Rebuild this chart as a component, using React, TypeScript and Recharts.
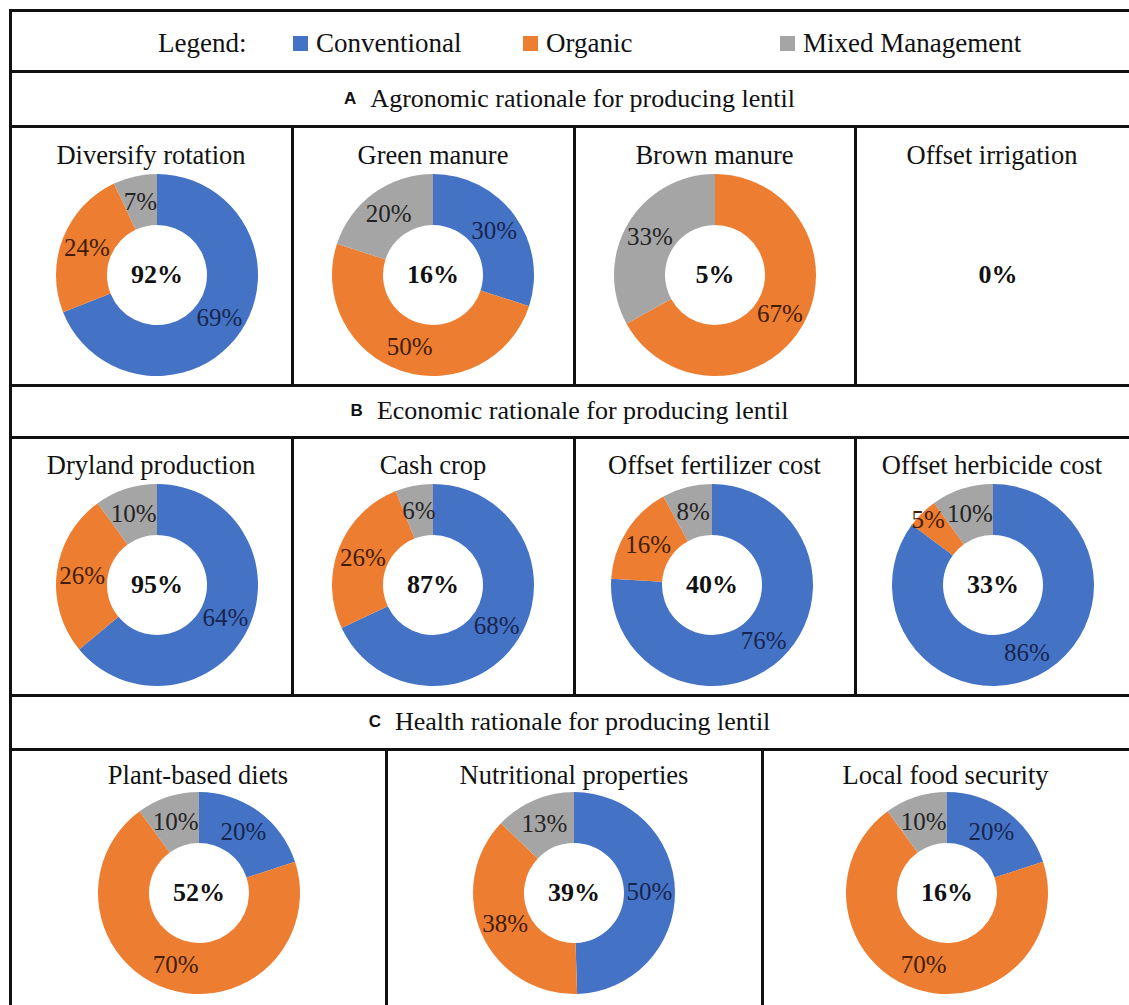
import React from 'react';
import { PieChart, Pie, Cell } from 'recharts';

// series and colors
const seriesNames = ['Conventional', 'Organic', 'Mixed Management'];
const seriesColors = ['#4472C4', '#ED7D31', '#A5A5A5'];
const labelColors = ['#17264F', '#431C04', '#242424'];

// A: agronomic
const agronomicTitles = ['Diversify rotation', 'Green manure', 'Brown manure', 'Offset irrigation'];
const agronomicConventional = [69, 30, 0, 0];
const agronomicOrganic = [24, 50, 67, 0];
const agronomicMixed = [7, 20, 33, 0];
const agronomicTotals = ['92%', '16%', '5%', '0%'];

// B: economic
const economicTitles = ['Dryland production', 'Cash crop', 'Offset fertilizer cost', 'Offset herbicide cost'];
const economicConventional = [64, 68, 76, 86];
const economicOrganic = [26, 26, 16, 5];
const economicMixed = [10, 6, 8, 10];
const economicTotals = ['95%', '87%', '40%', '33%'];

// C: health
const healthTitles = ['Plant-based diets', 'Nutritional properties', 'Local food security'];
const healthConventional = [20, 50, 20];
const healthOrganic = [70, 38, 70];
const healthMixed = [10, 13, 10];
const healthTotals = ['52%', '39%', '16%'];

const serif = '"Liberation Serif", "Times New Roman", serif';
const sans = '"Liberation Sans", Arial, sans-serif';
const RADIAN = Math.PI / 180;
const LINE = '#111';

const renderLabel = (props: any) => {
  const { cx, cy, midAngle, innerRadius, outerRadius, value, index, percent } = props;
  if (!value) return null;
  // tiny slices sit a bit further out, like Excel's best fit
  const r = (innerRadius + outerRadius) / 2 + (percent < 0.06 ? 17 : 0);
  const x = cx + r * Math.cos(-midAngle * RADIAN);
  const y = cy + r * Math.sin(-midAngle * RADIAN);
  return (
    <text
      x={x}
      y={y}
      fill={labelColors[index]}
      textAnchor="middle"
      dominantBaseline="central"
      style={{ fontFamily: serif, fontSize: 25 }}
    >
      {value}%
    </text>
  );
};

interface DonutProps {
  title: string;
  values: number[];
  total: string;
  cellLeft: number;
  cellWidth: number;
  titleY: number;
  cx: number;
  cy: number;
}

function Donut({ title, values, total, cellLeft, cellWidth, titleY, cx, cy }: DonutProps) {
  const data = values.map((v, i) => ({ name: seriesNames[i], value: v }));
  const hasData = values.some((v) => v > 0);
  const size = 240;
  return (
    <>
      <div
        style={{
          position: 'absolute', left: cellLeft, width: cellWidth, top: titleY - 16,
          height: 32, lineHeight: '32px', textAlign: 'center',
          fontFamily: serif, fontSize: 26.5, color: '#111', whiteSpace: 'nowrap',
        }}
      >
        {title}
      </div>
      {hasData && (
        <div style={{ position: 'absolute', left: cx - size / 2, top: cy - size / 2 }}>
          <PieChart width={size} height={size}>
            <Pie
              data={data}
              dataKey="value"
              cx="50%"
              cy="50%"
              innerRadius={50}
              outerRadius={101}
              startAngle={90}
              endAngle={-270}
              stroke="none"
              labelLine={false}
              label={renderLabel}
              isAnimationActive={false}
            >
              {data.map((d, i) => (
                <Cell key={d.name} fill={seriesColors[i]} />
              ))}
            </Pie>
          </PieChart>
        </div>
      )}
      <div
        style={{
          position: 'absolute', left: cx - 50, width: 100, top: cy - 16, height: 32,
          lineHeight: '32px', textAlign: 'center', fontFamily: serif,
          fontSize: 26, fontWeight: 'bold', color: '#111',
        }}
      >
        {total}
      </div>
    </>
  );
}

const hLine = (y: number) => (
  <div key={'h' + y} style={{ position: 'absolute', left: 9, top: y, width: 1120, height: 3, background: LINE }} />
);
const vLine = (x: number, y0: number, y1: number) => (
  <div key={'v' + x + '-' + y0} style={{ position: 'absolute', left: x, top: y0, width: 3, height: y1 - y0, background: LINE }} />
);

function SectionHeader({ letter, text, y }: { letter: string; text: string; y: number }) {
  return (
    <div
      style={{
        position: 'absolute', left: 10, width: 1119, top: y - 16, height: 32,
        display: 'flex', alignItems: 'center', justifyContent: 'center', color: '#111',
      }}
    >
      <span style={{ fontFamily: sans, fontWeight: 'bold', fontSize: 17, marginRight: 14 }}>{letter}</span>
      <span style={{ fontFamily: serif, fontSize: 26 }}>{text}</span>
    </div>
  );
}

const colsAB = [10, 292, 574, 855, 1129];
const cxA = [157, 433, 715, 998];
const cxB = [157, 433, 712, 993];
const colsC = [10, 386, 762, 1129];
const cxC = [199, 574, 947];

export default function App() {
  const legendItems = [
    { square: 293, text: 316 },
    { square: 523, text: 546 },
    { square: 780, text: 803 },
  ];
  return (
    <div style={{ position: 'absolute', left: 0, top: 0, width: 1129, height: 1005, overflow: 'hidden', background: '#fff' }}>
      {[9, 70, 125, 384, 436, 694, 748].map(hLine)}
      {vLine(9, 9, 1005)}
      {[291, 573, 854].map((x) => vLine(x, 125, 387))}
      {[291, 573, 854].map((x) => vLine(x, 436, 697))}
      {[385, 761].map((x) => vLine(x, 748, 1005))}

      {/* legend */}
      <div style={{ position: 'absolute', left: 158, top: 27, height: 32, lineHeight: '32px', fontFamily: serif, fontSize: 27, color: '#111' }}>
        Legend:
      </div>
      {legendItems.map((item, i) => (
        <React.Fragment key={seriesNames[i]}>
          <div style={{ position: 'absolute', left: item.square, top: 36, width: 15, height: 15, background: seriesColors[i] }} />
          <div style={{ position: 'absolute', left: item.text, top: 27, height: 32, lineHeight: '32px', fontFamily: serif, fontSize: 27, color: '#111', whiteSpace: 'nowrap' }}>
            {seriesNames[i]}
          </div>
        </React.Fragment>
      ))}

      <SectionHeader letter="A" text="Agronomic rationale for producing lentil" y={99} />
      {agronomicTitles.map((t, i) => (
        <Donut
          key={t}
          title={t}
          values={[agronomicConventional[i], agronomicOrganic[i], agronomicMixed[i]]}
          total={agronomicTotals[i]}
          cellLeft={colsAB[i]}
          cellWidth={colsAB[i + 1] - colsAB[i]}
          titleY={155}
          cx={cxA[i]}
          cy={275}
        />
      ))}

      <SectionHeader letter="B" text="Economic rationale for producing lentil" y={411} />
      {economicTitles.map((t, i) => (
        <Donut
          key={t}
          title={t}
          values={[economicConventional[i], economicOrganic[i], economicMixed[i]]}
          total={economicTotals[i]}
          cellLeft={colsAB[i]}
          cellWidth={colsAB[i + 1] - colsAB[i]}
          titleY={465}
          cx={cxB[i]}
          cy={585}
        />
      ))}

      <SectionHeader letter="C" text="Health rationale for producing lentil" y={722} />
      {healthTitles.map((t, i) => (
        <Donut
          key={t}
          title={t}
          values={[healthConventional[i], healthOrganic[i], healthMixed[i]]}
          total={healthTotals[i]}
          cellLeft={colsC[i]}
          cellWidth={colsC[i + 1] - colsC[i]}
          titleY={775}
          cx={cxC[i]}
          cy={893}
        />
      ))}
    </div>
  );
}
